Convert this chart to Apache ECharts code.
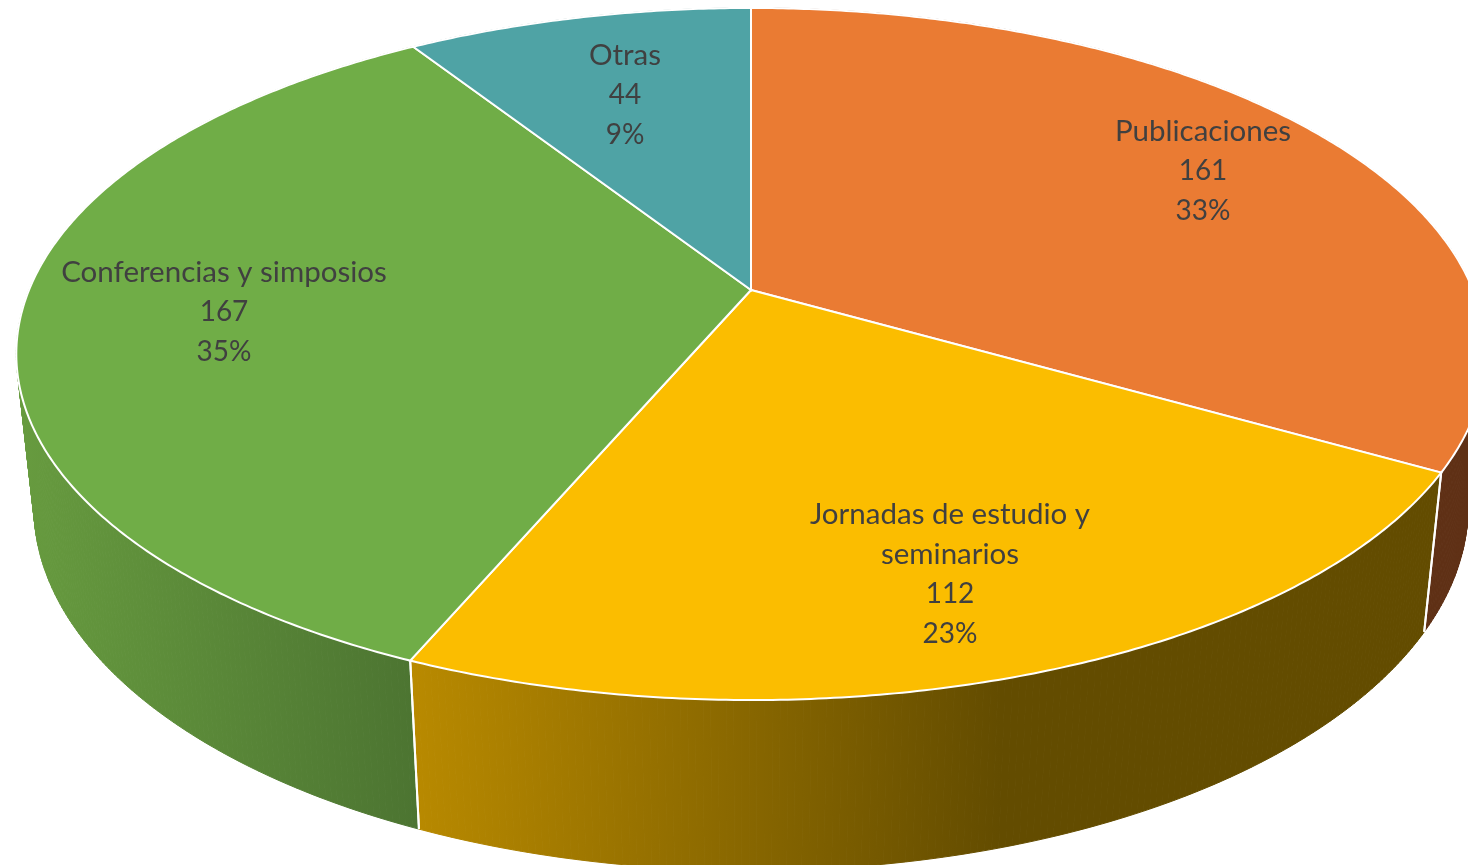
<!DOCTYPE html>
<html>
<head>
<meta charset="utf-8">
<style>
    html, body { margin: 0; padding: 0; background: #fff; overflow: hidden; }
    #chart { width: 1468px; height: 865px; }
</style>
<script src="https://cdn.jsdelivr.net/npm/echarts@6/dist/echarts.min.js"></script>
</head>
<body>
<div id="chart"></div>
<script>
    const categories = ["Publicaciones", "Jornadas de estudio y\nseminarios", "Conferencias y simposios", "Otras"];
    const values = [161, 112, 167, 44];
    const topColors = ["#EA7B33", "#FBBD00", "#70AD47", "#4FA3A5"];
    // wall shading, left to right colour stops
    const wallColors = [["#5F3015", "#5F3015"], ["#B98A00", "#634C00"], ["#679B3F", "#4C7431"], ["#2F6465", "#2F6465"]];
    const wallRanges = [[1300, 1468], [410, 1000], [20, 420], [400, 760]];
    const labelAnchors = [[1203, 131], [950, 514], [224, 272], [625, 55]];

    // perspective of the disc: top face and bottom face
    const topFace = {cx: 751, cy: 290, a: 722, b: 334.2, k: 0.185};
    const bottomFace = {cx: 751, cy: 440, a: 705, b: 351.7, k: 0.183};

    const total = values.reduce((s, v) => s + v, 0);
    const startAngles = values.map((v, i) => values.slice(0, i).reduce((s, x) => s + x, 0) / total * 360);

    function project(face, deg) {
        const r = deg * Math.PI / 180, u = Math.sin(r), v = Math.cos(r), d = 1 + face.k * v;
        return [face.cx + face.a * u / d, face.cy - face.b * v / d];
    }

    function arc(face, from, to) {
        const pts = [], n = Math.max(2, Math.ceil((to - from) * 2));
        for (let i = 0; i <= n; i++) pts.push(project(face, from + (to - from) * i / n));
        return pts;
    }

    function renderWall(params, api) {
        const i = params.dataIndex, from = startAngles[i], to = from + api.value(0) / total * 360;
        const shade = new echarts.graphic.LinearGradient(wallRanges[i][0], 0, wallRanges[i][1], 0, [
            {offset: 0, color: wallColors[i][0]},
            {offset: 1, color: wallColors[i][1]}
        ], true);
        const upper = arc(topFace, from, to), lower = arc(bottomFace, from, to);
        // one quad per step so the side silhouette between both faces gets filled
        const children = upper.slice(1).map((p, j) => ({
            type: "polygon",
            shape: {points: [upper[j], p, lower[j + 1], lower[j]]},
            style: {fill: shade, stroke: shade, lineWidth: 1}
        }));
        [0, upper.length - 1].forEach(j => children.push({
            type: "line",
            z2: 5,
            shape: {x1: upper[j][0], y1: upper[j][1], x2: lower[j][0], y2: lower[j][1]},
            style: {stroke: "#fff", lineWidth: 2}
        }));
        return {type: "group", children};
    }

    function renderTop(params, api) {
        const i = params.dataIndex, from = startAngles[i], to = from + api.value(0) / total * 360;
        const points = [[topFace.cx, topFace.cy]].concat(arc(topFace, from, to));
        const nameLines = categories[i].split("\n").map(s => "{name|" + s + "}");
        return {
            type: "group",
            children: [{
                type: "polygon",
                shape: {points},
                style: {fill: topColors[i], stroke: "#fff", lineWidth: 2}
            }, {
                type: "text",
                z2: 10,
                style: {
                    x: labelAnchors[i][0],
                    y: labelAnchors[i][1] - 20,
                    text: nameLines.concat(["{num|" + values[i] + "}", "{num|" + Math.round(values[i] / total * 100) + "%}"]).join("\n"),
                    align: "center",
                    verticalAlign: "top",
                    fontFamily: "Lato",
                    fill: "#404040",
                    rich: {
                        name: {fontFamily: "Lato", fontSize: 29.5, lineHeight: 40, fill: "#404040"},
                        num: {fontFamily: "Lato", fontSize: 28, lineHeight: 40, fill: "#404040"}
                    }
                }
            }]
        };
    }

    const chart = echarts.init(document.getElementById("chart"));
    const seriesData = values.map((v, i) => ({name: categories[i], value: [v]}));
    chart.setOption({
        animation: false,
        series: [
            {type: "custom", coordinateSystem: "none", silent: true, z: 1, renderItem: renderWall, data: seriesData},
            {type: "custom", coordinateSystem: "none", silent: true, z: 2, renderItem: renderTop, data: seriesData}
        ]
    });
    window.addEventListener("resize", () => chart.resize());
</script>
</body>
</html>
